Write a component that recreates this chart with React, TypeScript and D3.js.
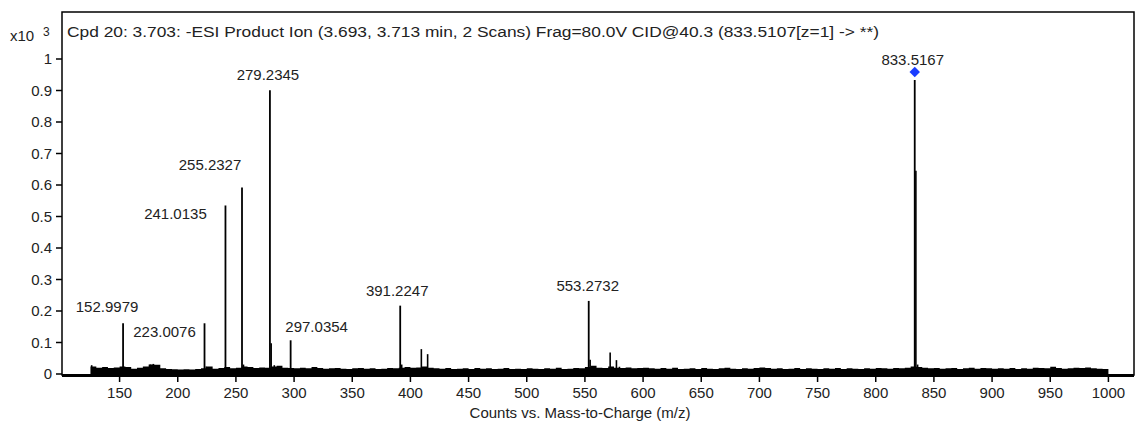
import * as d3 from "d3";

// labelled peaks (m/z, intensity in x10^3 counts)
const peakMz = [152.9979, 223.0076, 241.0135, 255.2327, 279.2345, 297.0354, 391.2247, 553.2732, 833.5167];
const peakIntensity = [0.161, 0.161, 0.535, 0.592, 0.901, 0.107, 0.217, 0.232, 0.933];
const peakLabels = ["152.9979", "223.0076", "241.0135", "255.2327", "279.2345", "297.0354", "391.2247", "553.2732", "833.5167"];

// unlabelled smaller peaks
const minorMz = [126.0, 176.5, 179.0, 224.5, 243.0, 256.5, 280.3, 283.0, 392.5, 409.4, 414.8, 554.5, 571.7, 577.1, 579.7, 834.5, 836.0];
const minorIntensity = [0.028, 0.03, 0.032, 0.024, 0.022, 0.03, 0.098, 0.028, 0.03, 0.079, 0.063, 0.045, 0.068, 0.044, 0.023, 0.645, 0.03];

// baseline noise level, every 5 m/z from 125 to 1000
const noiseLevel = [
  0.024, 0.02, 0.022, 0.019, 0.021, 0.024,
  0.022, 0.017, 0.02, 0.024, 0.03, 0.029,
  0.018, 0.016, 0.015, 0.014, 0.015, 0.014, 0.016, 0.018,
  0.024, 0.017, 0.019, 0.022, 0.018, 0.02, 0.024, 0.022, 0.019, 0.021, 0.02, 0.024, 0.026, 0.02, 0.019, 0.018,
  0.02, 0.018, 0.022, 0.019, 0.017, 0.018, 0.019, 0.017, 0.016, 0.018, 0.019, 0.017, 0.018, 0.016, 0.017, 0.019, 0.018, 0.02, 0.022, 0.02,
  0.021, 0.024, 0.02, 0.018, 0.017, 0.019, 0.016, 0.017, 0.018, 0.016, 0.019, 0.017, 0.018, 0.016, 0.017, 0.019, 0.016, 0.017, 0.016, 0.018,
  0.017, 0.016, 0.018, 0.017, 0.02, 0.016, 0.017, 0.019, 0.018, 0.022, 0.026, 0.02, 0.019, 0.024, 0.02, 0.019, 0.021, 0.018, 0.019, 0.02,
  0.018, 0.017, 0.019, 0.017, 0.02, 0.016, 0.017, 0.018, 0.016, 0.019, 0.017, 0.016, 0.018, 0.02, 0.017, 0.016, 0.018, 0.017, 0.019, 0.021,
  0.019, 0.017, 0.018, 0.016, 0.017, 0.019, 0.016, 0.018, 0.017, 0.016, 0.018, 0.017, 0.019, 0.016, 0.018, 0.017, 0.016, 0.018, 0.017, 0.019,
  0.018, 0.017, 0.019, 0.018, 0.02, 0.024, 0.022, 0.02, 0.018, 0.019, 0.017, 0.018, 0.019, 0.016, 0.018, 0.02, 0.017, 0.019, 0.018, 0.017,
  0.018, 0.017, 0.019, 0.016, 0.018, 0.017, 0.02, 0.019, 0.018, 0.023, 0.019, 0.017, 0.018, 0.02, 0.019, 0.021, 0.018, 0.017, 0.016, 0.015,
];
const noiseMz = noiseLevel.map((_, i) => 125 + i * 5);

const xTicks = [150, 200, 250, 300, 350, 400, 450, 500, 550, 600, 650, 700, 750, 800, 850, 900, 950, 1000];
const yTicks = [0, 0.1, 0.2, 0.3, 0.4, 0.5, 0.6, 0.7, 0.8, 0.9, 1];

const title = "Cpd 20: 3.703: -ESI Product Ion (3.693, 3.713 min, 2 Scans) Frag=80.0V CID@40.3 (833.5107[z=1] -> **)";
const xTitle = "Counts vs. Mass-to-Charge (m/z)";

// label offsets (px) from each peak top: [dx, dy of text centre]
const labelOffset = [[-16, -17], [-40, 8], [-50, 8], [-32, -23], [-2, -15], [26, -14], [-3, -15], [-1, -15], [-2, -20]];

const W = 1136, H = 425;
const left = 62, right = 1134, top = 12, bottom = 375;
const font = "'Liberation Sans', Arial, sans-serif";

export default function App() {
  const x = d3.scaleLinear().domain([100.5, 1022]).range([left, right]);
  const y = d3.scaleLinear().domain([0, 1]).range([374, 59]);

  const noiseArea = d3
    .area<number>()
    .x((d, i) => x(noiseMz[i]))
    .y0(y(0))
    .y1((d) => y(d))
    .curve(d3.curveStepAfter)(noiseLevel);

  return (
    <svg width={W} height={H} style={{ position: "absolute", left: 0, top: 0, background: "#fff" }} fontFamily={font}>
      {/* multiplier */}
      <text x={10} y={41} fontSize={15} fill="#222">x10</text>
      <text x={43} y={36} fontSize={12} fill="#222">3</text>

      {/* title */}
      <text x={67} y={37} fontSize={15.5} fill="#222" textLength={812} lengthAdjust="spacingAndGlyphs">{title}</text>

      {/* y axis */}
      {yTicks.map((t) => (
        <g key={t}>
          <line x1={56} x2={left} y1={y(t)} y2={y(t)} stroke="#000" strokeWidth={1.5} />
          <text x={52} y={y(t)} dy="0.35em" textAnchor="end" fontSize={15} fill="#222">{t}</text>
        </g>
      ))}

      {/* x axis */}
      {xTicks.map((t) => (
        <g key={t}>
          <line x1={x(t)} x2={x(t)} y1={bottom} y2={382} stroke="#000" strokeWidth={1.5} />
          <text x={x(t)} y={398} textAnchor="middle" fontSize={15} fill="#222">{t}</text>
        </g>
      ))}
      <text x={580} y={418} textAnchor="middle" fontSize={15} fill="#222">{xTitle}</text>

      {/* noise band */}
      <path d={noiseArea ?? ""} fill="#000" />

      {/* minor peaks */}
      {minorMz.map((m, i) => (
        <line key={"m" + i} x1={x(m)} x2={x(m)} y1={y(0)} y2={y(minorIntensity[i])} stroke="#000" strokeWidth={1.6} />
      ))}

      {/* labelled peaks */}
      {peakMz.map((m, i) => (
        <line key={"p" + i} x1={x(m)} x2={x(m)} y1={y(0)} y2={y(peakIntensity[i])} stroke="#000" strokeWidth={1.8} />
      ))}
      {peakMz.map((m, i) => (
        <text
          key={"l" + i}
          x={x(m) + labelOffset[i][0]}
          y={y(peakIntensity[i]) + labelOffset[i][1]}
          dy="0.35em"
          textAnchor="middle"
          fontSize={15}
          fill="#222"
        >
          {peakLabels[i]}
        </text>
      ))}

      {/* precursor marker */}
      <path
        d={d3.symbol(d3.symbolDiamond2, 70)() ?? ""}
        transform={`translate(${x(peakMz[8])},${y(peakIntensity[8]) - 8})`}
        fill="#1a3cff"
      />

      {/* frame */}
      <rect x={left} y={top} width={right - left} height={bottom - top} fill="none" stroke="#000" strokeWidth={1.5} />
      <line x1={left} x2={right} y1={bottom + 0.5} y2={bottom + 0.5} stroke="#000" strokeWidth={3} />
    </svg>
  );
}
